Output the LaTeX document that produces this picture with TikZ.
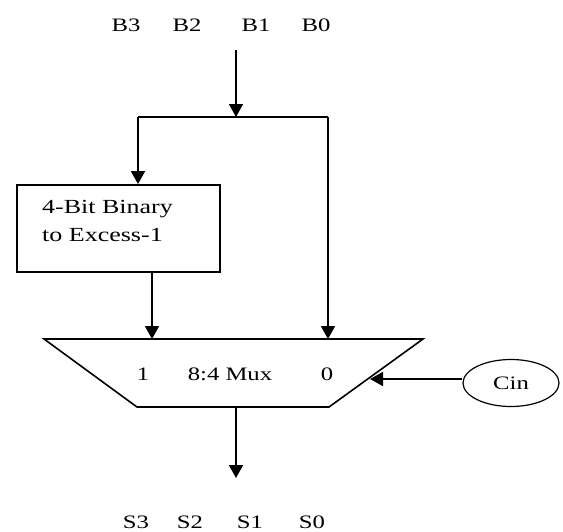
\documentclass[tikz,border=0pt]{standalone}
\usepackage{fontspec}
\setmainfont{Liberation Serif}[FakeStretch=1.3]
\usetikzlibrary{arrows.meta,shapes.geometric,calc}
\begin{document}
\begin{tikzpicture}[x=1pt,y=-1pt,
  lbl/.style={inner sep=0pt,anchor=base,font=\fontsize{19}{22}\selectfont},
  mlbl/.style={inner sep=0pt,anchor=base,font=\fontsize{19}{22}\selectfont},
  blbl/.style={inner sep=0pt,anchor=base west,font=\fontsize{20}{23}\selectfont},
  wire/.style={line width=1.8pt,draw=black},
  arr/.style={wire,-{Triangle[length=13pt,width=14pt]}},
  blk/.style={draw,line width=1.8pt,minimum width=203pt,minimum height=87pt,inner sep=0pt}]
\useasboundingbox (0,0) rectangle (563,531);
% input labels
\node[lbl] (b3) at (126,31) {B3};
\node[lbl] (b2) at (187,31) {B2};
\node[lbl] (b1) at (256,31) {B1};
\node[lbl] (b0) at (316,31) {B0};
% top wiring
\coordinate (tin) at (236,50);
\coordinate (junc) at (236,117);
\coordinate (jl) at (138,117);
\coordinate (jr) at (328,117);
\draw[arr] (tin) -- (junc);
\draw[wire] (jl) -- (jr);
% converter box
\node[blk] (conv) at (118.5,228.5) {};
\node[blbl] (convl1) at (42,213) {4-Bit Binary};
\node[blbl] (convl2) at (42,241) {to Excess-1};
\draw[arr] (jl) -- (jl |- conv.north);
% mux
\coordinate (mtl) at (44,339);
\coordinate (mtr) at (423,339);
\coordinate (mbr) at (329,407);
\coordinate (mbl) at (137,407);
\draw[line width=1.6pt] (mtl) -- (mtr) -- (mbr) -- (mbl) -- cycle;
\node[mlbl] (m1) at (143,380) {1};
\node[mlbl] (mux) at (230,380) {8:4 Mux};
\node[mlbl] (m0) at (327,380) {0};
\coordinate (convout) at (152,272);
\draw[arr] (convout) -- (convout |- mtl);
\draw[arr] (jr) -- (jr |- mtl);
% carry in
\node[draw,ellipse,line width=1.2pt,minimum width=96pt,minimum height=47pt,inner sep=0pt,font=\fontsize{19}{22}\selectfont] (cin) at (511,383) {Cin};
\coordinate (cinend) at (370,379);
\draw[arr] (cin.west |- cinend) -- (cinend);
% output
\coordinate (mout) at (236,407);
\coordinate (oend) at (236,478);
\draw[arr] (mout) -- (oend);
\node[lbl] (s3) at (136,528) {S3};
\node[lbl] (s2) at (190,528) {S2};
\node[lbl] (s1) at (250,528) {S1};
\node[lbl] (s0) at (312,528) {S0};
\end{tikzpicture}
\end{document}
